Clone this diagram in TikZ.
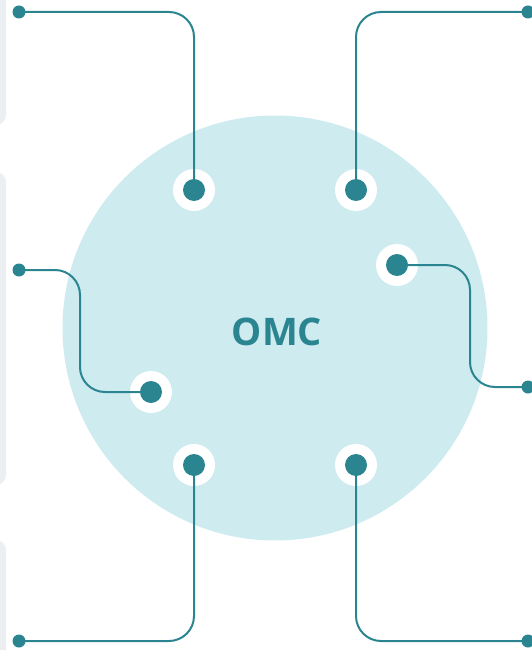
\documentclass[tikz,border=0pt]{standalone}
\usepackage{fontspec}
\setmainfont{Open Sans}
\definecolor{teal}{HTML}{2A8590}
\definecolor{lightcyan}{HTML}{CEEBF0}
\definecolor{panelgray}{HTML}{EBEFF2}
\begin{document}
\begin{tikzpicture}[x=1pt,y=-1pt,
  panel/.style={fill=panelgray,draw=none,rounded corners=10},
  halo/.style={circle,fill=white,minimum size=42,inner sep=0},
  bigdot/.style={circle,fill=teal,minimum size=22,inner sep=0},
  enddot/.style={circle,fill=teal,minimum size=13,inner sep=0},
  wire/.style={draw=teal,line width=2,rounded corners=25}]
\useasboundingbox (0,0) rectangle (531,650);
\fill[panel] (-30,-30) rectangle (6,125);
\fill[panel] (-30,172) rectangle (6,485);
\fill[panel] (-30,540) rectangle (6,680);
\node[circle,fill=lightcyan,minimum size=425,inner sep=0] (c) at (275,328) {};
\node[text=teal,font=\bfseries\fontsize{38}{40}\selectfont] (t) at (277,332) {OMC};
% halos
\foreach \n/\x/\y in {h1/194/190,h2/356/190,h3/397/265,h4/151/392,h5/194/465,h6/356/465}
  \node[halo] (\n) at (\x,\y) {};
% end points
\coordinate (e1) at (19,12);
\coordinate (e2) at (528,12);
\coordinate (e3) at (528,387);
\coordinate (e4) at (19,270);
\coordinate (e5) at (19,641);
\coordinate (e6) at (528,641);
\coordinate (b3) at (470,265);
\coordinate (b4) at (80,392);
% wires
\draw[wire] (h1.center) |- (e1);
\draw[wire] (h2.center) |- (e2);
\draw[wire] (h3.center) -- (b3) |- (e3);
\draw[wire] (h4.center) -- (b4) |- (e4);
\draw[wire] (h5.center) |- (e5);
\draw[wire] (h6.center) |- (e6);
% dots
\foreach \n in {1,...,6} \node[bigdot] (d\n) at (h\n) {};
\foreach \n in {1,...,6} \node[enddot] (n\n) at (e\n) {};
\end{tikzpicture}
\end{document}
